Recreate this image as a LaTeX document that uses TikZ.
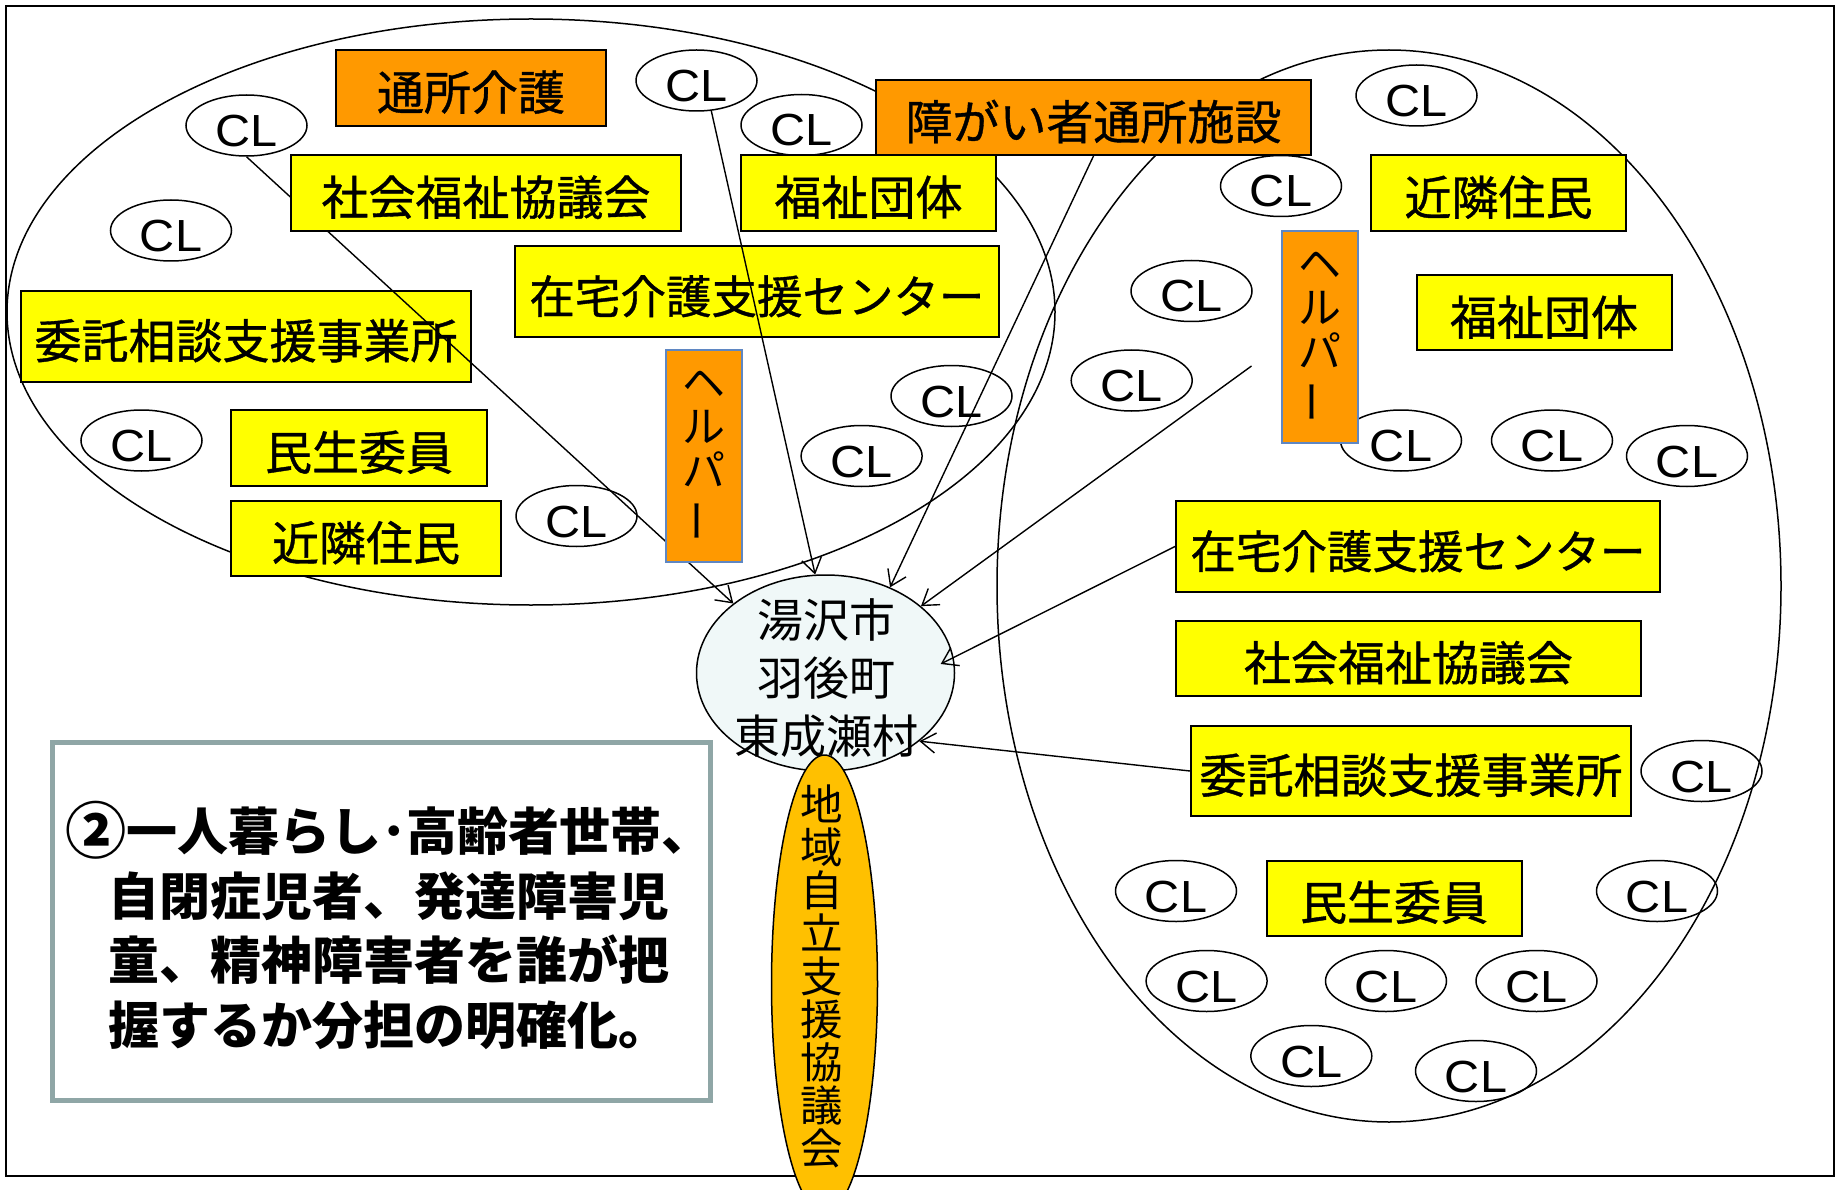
\documentclass[tikz,border=0pt]{standalone}
\usepackage{fontspec}
\usepackage{graphicx}
\usetikzlibrary{arrows.meta,shapes.geometric}
\newfontfamily\jp{Noto Sans CJK JP}
\newfontfamily\jpm[FakeBold=0.8]{Noto Sans CJK JP}
\newfontfamily\clf[FakeStretch=1.08]{Liberation Sans}
\definecolor{orng}{RGB}{255,153,0}
\definecolor{ylw}{RGB}{255,255,0}
\definecolor{goldc}{RGB}{255,192,0}
\definecolor{cityfill}{RGB}{240,248,248}
\definecolor{helperedge}{RGB}{95,135,195}
\definecolor{noteedge}{RGB}{143,166,166}
\begin{document}
\begin{tikzpicture}[x=1pt,y=-1pt,
  box/.style={draw=black,line width=2pt,inner sep=0pt,font=\jpm\fontsize{47}{56}\selectfont,text height=44pt,text depth=0pt},
  ybox/.style={box,fill=ylw},
  obox/.style={box,fill=orng},
  helper/.style={draw=helperedge,line width=2pt,fill=orng,inner sep=0pt,minimum width=76pt,minimum height=212pt,align=center,font=\jp\fontsize{43}{44}\selectfont},
  cl/.style={draw=black,line width=1.5pt,ellipse,inner sep=0pt,minimum width=121pt,minimum height=61pt,font=\clf\fontsize{45}{50}\selectfont,text height=42pt,text depth=0pt},
  bigell/.style={draw=black,line width=1.5pt},
  arr/.style={draw=black,line width=1.4pt,-{Straight Barb[length=15pt,width=20pt,line width=1.4pt]}},
  cityell/.style={draw=black,line width=1.5pt,fill=cityfill,ellipse,inner sep=0pt,minimum width=258pt,minimum height=196pt},
  citytxt/.style={align=center,inner sep=0pt,font=\jp\fontsize{46}{58}\selectfont},
  chiikiell/.style={draw=black,line width=1.5pt,fill=goldc,ellipse,inner sep=0pt,minimum width=106pt,minimum height=458pt},
  chiikitxt/.style={align=center,inner sep=0pt,font=\jp\fontsize{42.5}{43}\selectfont},
  notebox/.style={draw=noteedge,line width=5pt,fill=white,inner sep=0pt,minimum width=658pt,minimum height=358.5pt},
  notetxt/.style={align=center,inner sep=0pt,font=\jp\bfseries\fontsize{51}{64.5}\selectfont},
]
\path[use as bounding box] (0,0) rectangle (1837,1190);
\clip (0,0) rectangle (1837,1190);
\fill[white] (0,0) rectangle (1837,1190);
\draw[black,line width=2pt] (6,6) rectangle (1834,1176);

% big group ellipses
\draw[bigell] (531,312) ellipse [x radius=524pt, y radius=293pt];
\draw[bigell] (1389,586) ellipse [x radius=392pt, y radius=536pt];

% CL ellipses, left group
\node[cl] (cl1) at (246.5,125.5) {CL};
\node[cl] (cl2) at (696.5,80.5) {CL};
\node[cl] (cl3) at (801.5,125) {CL};
\node[cl] (cl4) at (171,230.5) {CL};
\node[cl] (cl5) at (141.5,440.5) {CL};
\node[cl] (cl6) at (576.5,516) {CL};
\node[cl] (cl7) at (861.6,456) {CL};
\node[cl] (cl8) at (951.5,396) {CL};
% CL ellipses, right group
\node[cl] (cl9) at (1416.5,95.5) {CL};
\node[cl] (cl10) at (1281,186) {CL};
\node[cl] (cl11) at (1191.5,291) {CL};
\node[cl] (cl12) at (1131.7,380.5) {CL};
\node[cl] (cl13) at (1401,440.5) {CL};
\node[cl] (cl14) at (1552,440.5) {CL};
\node[cl] (cl15) at (1687,456) {CL};
\node[cl] (cl16) at (1701.5,771) {CL};
\node[cl] (cl17) at (1176,891) {CL};
\node[cl] (cl18) at (1657,891) {CL};
\node[cl] (cl19) at (1206.6,981) {CL};
\node[cl] (cl20) at (1386,981) {CL};
\node[cl] (cl21) at (1536.5,981) {CL};
\node[cl] (cl22) at (1311.3,1056) {CL};
\node[cl] (cl23) at (1476,1071) {CL};

% boxes, left group
\node[obox,minimum width=270pt,minimum height=76pt] (tsusho) at (471,88) {通所介護};
\node[ybox,minimum width=255pt,minimum height=76pt] (fukushi1) at (868.5,193) {福祉団体};
\node[ybox,minimum width=450pt,minimum height=91pt] (itaku1) at (246,336.5) {委託相談支援事業所};
\node[ybox,minimum width=484pt,minimum height=91pt,font=\jpm\fontsize{45.5}{56}\selectfont] (zaitaku1) at (757,291.5) {在宅介護支援センター};
\node[ybox,minimum width=256pt,minimum height=76pt] (minsei1) at (359,448) {民生委員};
\node[ybox,minimum width=270pt,minimum height=75pt] (kinrin1) at (366,538.5) {近隣住民};
% boxes, top / right group
\node[obox,minimum width=435pt,minimum height=75pt] (shogai) at (1093.5,117.5) {障がい者通所施設};
\node[ybox,minimum width=255pt,minimum height=76pt] (kinrin2) at (1498.5,193) {近隣住民};
\node[ybox,minimum width=255pt,minimum height=75pt] (fukushi2) at (1544,313) {福祉団体};
\node[ybox,minimum width=484pt,minimum height=91pt,font=\jpm\fontsize{45.5}{56}\selectfont] (zaitaku2) at (1418,546.5) {在宅介護支援センター};
\node[ybox,minimum width=465pt,minimum height=75pt] (shakyo2) at (1408.5,658.5) {社会福祉協議会};
\node[ybox,minimum width=440pt,minimum height=90pt] (itaku2) at (1411,771) {委託相談支援事業所};
\node[ybox,minimum width=255pt,minimum height=75pt] (minsei2) at (1394,898) {民生委員};

% municipality ellipse
\node[cityell] (city) at (825.5,673) {};
\node[citytxt] (citylabel) at (826,678) {湯沢市\\羽後町\\東成瀬村};

% connectors
\coordinate (h2tail) at (1251.5,366);
\draw[arr] (cl1.south) -- (city.143);
\draw[arr] (cl2.-64) -- (city.96);
\draw[arr] (shogai.south) -- (city.53);
\draw[arr] (h2tail) -- (city.35);
\draw[arr] (zaitaku2.west) -- ([xshift=-14pt]city.4);
\draw[arr] (itaku2.west) -- (city.-36);

% boxes drawn over connectors
\node[ybox,minimum width=390pt,minimum height=76pt] (shakyo1) at (486,193) {社会福祉協議会};
\node[helper] (helper1) at (704,456) {ヘ\\ル\\パ\\\rotatebox[origin=c]{90}{ー}};
\node[helper] (helper2) at (1319.5,337) {ヘ\\ル\\パ\\\rotatebox[origin=c]{90}{ー}};

% regional council ellipse
\node[chiikiell] (chiiki) at (824.5,984) {};
\node[chiikitxt] (chiikilabel) at (822,976) {地\\域\\自\\立\\支\\援\\協\\議\\会};

% note box
\node[notebox] (note) at (381.5,921.25) {};
\node[notetxt] (notelabel) at (389,925.5) {\raisebox{-0.06em}{\scalebox{1.2}{②}}一人暮らし･高齢者世帯、\\自閉症児者、発達障害児\\童、精神障害者を誰が把\\握するか分担の明確化。};
\end{tikzpicture}
\end{document}
